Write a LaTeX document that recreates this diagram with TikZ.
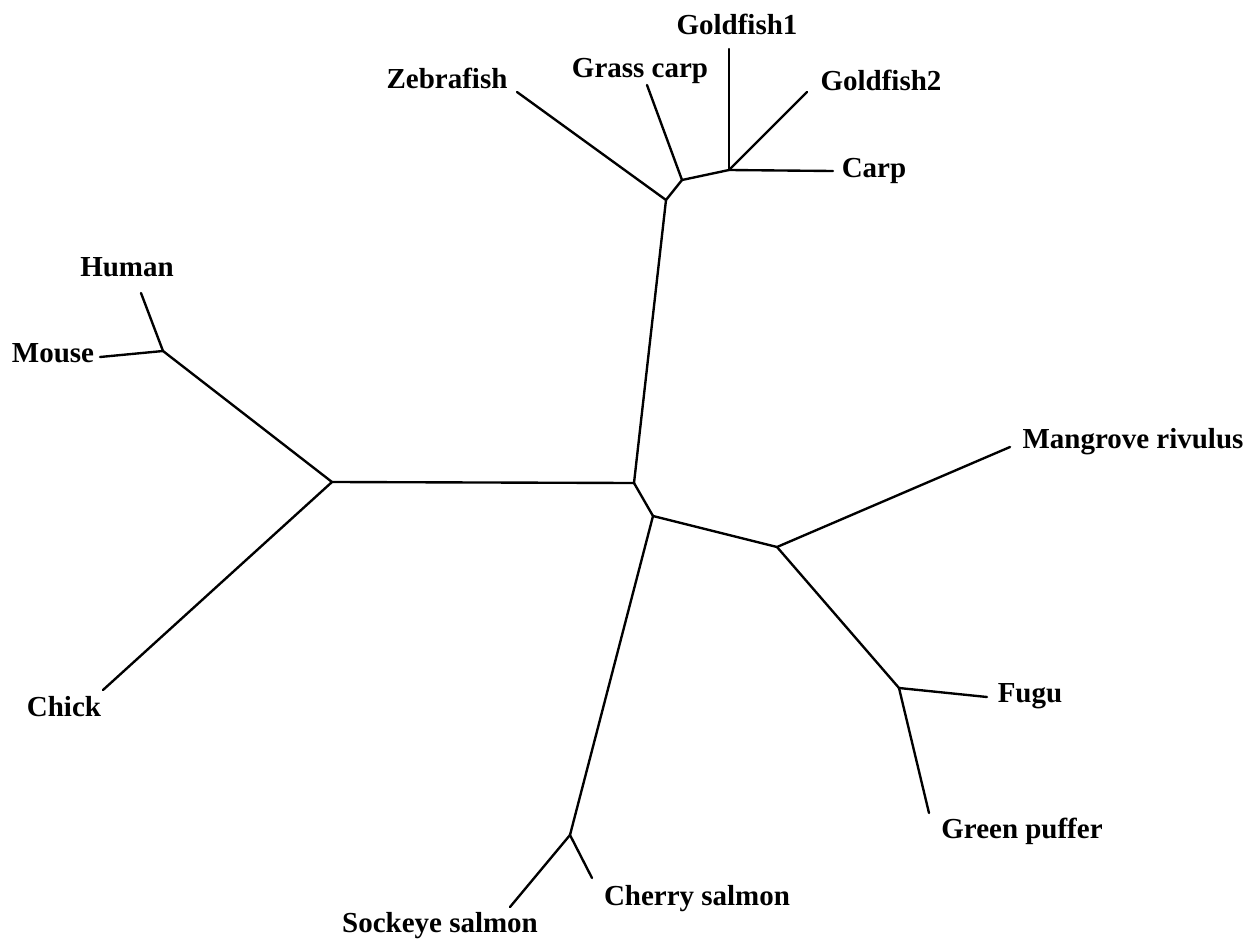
\documentclass[tikz,border=0pt]{standalone}
\usepackage{fontspec}
\setmainfont{Liberation Serif}
\begin{document}
\begin{tikzpicture}[x=0.02cm,y=-0.02cm,
  branch/.style={line width=1.35pt,line cap=round,line join=round},
  taxon/.style={font=\bfseries\fontsize{16.5}{19}\selectfont,anchor=base,inner sep=0pt}]
\useasboundingbox (0,0) rectangle (1255,943);
% internal nodes
\coordinate (E) at (332,482);
\coordinate (D) at (163,351);
\coordinate (F) at (634,483);
\coordinate (A) at (666,200);
\coordinate (B) at (682,180);
\coordinate (C) at (729,170);
\coordinate (G) at (653,516);
\coordinate (H) at (777,547);
\coordinate (J) at (899,688);
\coordinate (I) at (570,835);
% leaf ends
\coordinate (lZeb) at (517,92);
\coordinate (lGra) at (647,85);
\coordinate (lGo1) at (729,49);
\coordinate (lGo2) at (807,92);
\coordinate (lCar) at (833,171);
\coordinate (lHum) at (141,293);
\coordinate (lMou) at (100,357);
\coordinate (lChi) at (103,690);
\coordinate (lMan) at (1010,447);
\coordinate (lFug) at (987,697);
\coordinate (lGre) at (929,813);
\coordinate (lChe) at (592,878);
\coordinate (lSoc) at (510,907);
% labels
\node[taxon] (tZeb) at (447,88) {Zebrafish};
\node[taxon] (tGra) at (640,77) {Grass carp};
\node[taxon] (tGo1) at (737,34) {Goldfish1};
\node[taxon] (tGo2) at (881,90) {Goldfish2};
\node[taxon] (tCar) at (874,177) {Carp};
\node[taxon] (tHum) at (127,276) {Human};
\node[taxon] (tMou) at (53,362) {Mouse};
\node[taxon] (tChi) at (64,716) {Chick};
\node[taxon] (tMan) at (1133,448) {Mangrove rivulus};
\node[taxon] (tFug) at (1030,702) {Fugu};
\node[taxon] (tGre) at (1022,838) {Green puffer};
\node[taxon] (tChe) at (697,905) {Cherry salmon};
\node[taxon] (tSoc) at (440,932) {Sockeye salmon};
% branches
\draw[branch] (E) -- (F);
\draw[branch] (E) -- (D);
\draw[branch] (D) -- (lHum);
\draw[branch] (D) -- (lMou);
\draw[branch] (E) -- (lChi);
\draw[branch] (F) -- (A);
\draw[branch] (A) -- (lZeb);
\draw[branch] (A) -- (B);
\draw[branch] (B) -- (lGra);
\draw[branch] (B) -- (C);
\draw[branch] (C) -- (lGo1);
\draw[branch] (C) -- (lGo2);
\draw[branch] (C) -- (lCar);
\draw[branch] (F) -- (G);
\draw[branch] (G) -- (H);
\draw[branch] (H) -- (lMan);
\draw[branch] (H) -- (J);
\draw[branch] (J) -- (lFug);
\draw[branch] (J) -- (lGre);
\draw[branch] (G) -- (I);
\draw[branch] (I) -- (lChe);
\draw[branch] (I) -- (lSoc);
\end{tikzpicture}
\end{document}
